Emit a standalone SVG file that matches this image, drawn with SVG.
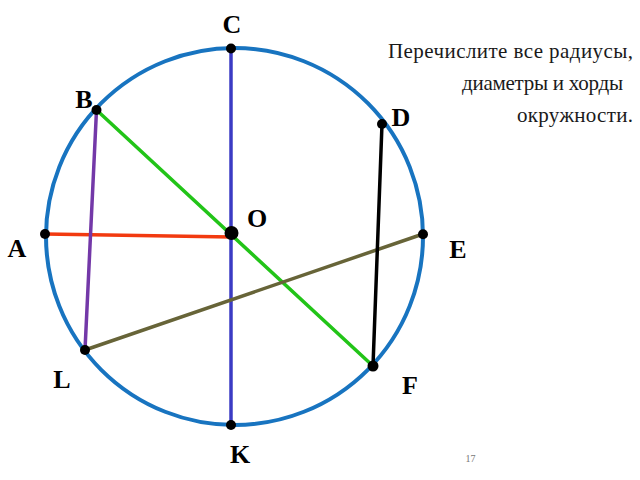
<svg xmlns="http://www.w3.org/2000/svg" width="640" height="480" viewBox="0 0 640 480">
<style>
.lbl{font-family:"Liberation Serif","Times New Roman",serif;font-weight:bold;font-size:26px;fill:#000;text-anchor:middle}
.txt{font-family:"Liberation Serif","Times New Roman",serif;font-size:21px;fill:#1a1a1a}
.seg{stroke-width:3.5;stroke-linecap:round;fill:none}
.dot{fill:#000}
</style>
<rect width="640" height="480" fill="#fff"/>
<g id="circle">
<ellipse cx="234.5" cy="236.5" rx="188.5" ry="188.5" fill="none" stroke="#1874c0" stroke-width="4"/>
</g>
<g id="connectors">
<line class="seg" x1="231" y1="48" x2="231" y2="425" stroke="#3b3bc4"/>
<line class="seg" x1="96.5" y1="110" x2="373" y2="366" stroke="#22c418"/>
<line class="seg" x1="45" y1="234" x2="231.5" y2="237" stroke="#f23a10"/>
<line class="seg" x1="96.5" y1="110" x2="85" y2="350" stroke="#7338a8"/>
<line class="seg" x1="85" y1="350" x2="423" y2="234" stroke="#676438"/>
<line class="seg" x1="382" y1="124" x2="373" y2="366" stroke="#000"/>
</g>
<g id="node-C"><circle class="dot" cx="231" cy="48.5" r="5"/><text class="lbl" x="232" y="33">C</text></g>
<g id="node-B"><circle class="dot" cx="96.5" cy="110" r="5"/><text class="lbl" x="84" y="108">B</text></g>
<g id="node-D"><circle class="dot" cx="382" cy="124" r="5"/><text class="lbl" x="401" y="126">D</text></g>
<g id="node-O"><circle class="dot" cx="231.5" cy="233" r="7"/><text class="lbl" x="257" y="227">O</text></g>
<g id="node-A"><circle class="dot" cx="45" cy="234" r="5"/><text class="lbl" x="17" y="257">A</text></g>
<g id="node-E"><circle class="dot" cx="423" cy="234.3" r="5"/><text class="lbl" x="458" y="258">E</text></g>
<g id="node-L"><circle class="dot" cx="85" cy="350" r="5"/><text class="lbl" x="62" y="388">L</text></g>
<g id="node-F"><circle class="dot" cx="373" cy="366" r="5.5"/><text class="lbl" x="410" y="394">F</text></g>
<g id="node-K"><circle class="dot" cx="231" cy="425" r="5"/><text class="lbl" x="240" y="463">K</text></g>
<g id="question">
<text class="txt" x="388" y="58" textLength="245" lengthAdjust="spacing">Перечислите все радиусы,</text>
<text class="txt" x="462" y="90" textLength="161" lengthAdjust="spacing">диаметры и хорды</text>
<text class="txt" x="517" y="122" textLength="116" lengthAdjust="spacing">окружности.</text>
</g>
<text x="470.5" y="462" font-family="Liberation Serif,serif" font-size="10" fill="#777" text-anchor="middle">17</text>
</svg>
